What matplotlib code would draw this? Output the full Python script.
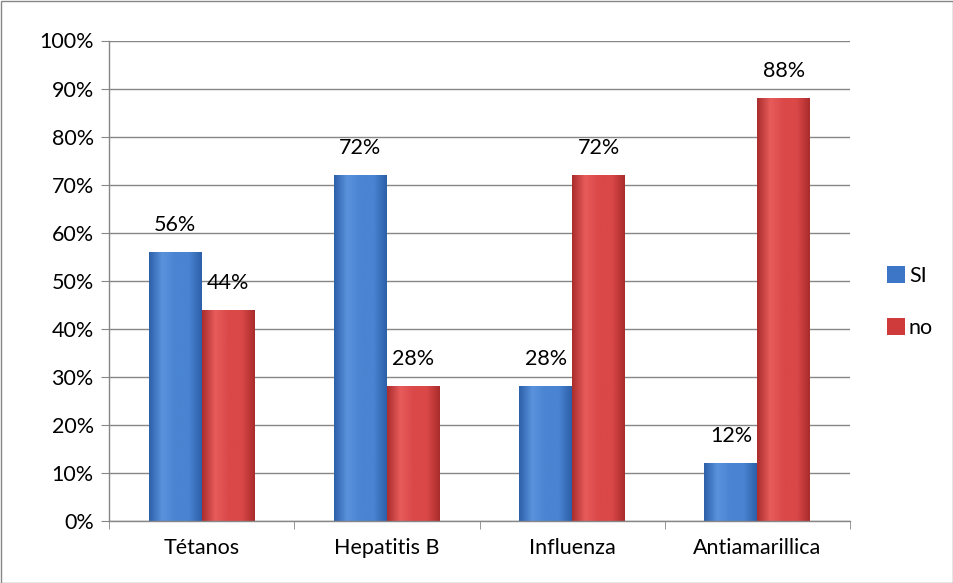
import matplotlib
matplotlib.use("Agg")
import matplotlib.pyplot as plt
import numpy as np
from matplotlib.colors import LinearSegmentedColormap
from matplotlib.patches import Rectangle

categories = ["Tétanos", "Hepatitis B", "Influenza", "Antiamarillica"]
si_values = [56, 72, 28, 12]
no_values = [44, 28, 72, 88]
series_names = ["SI", "no"]
y_ticks = [0, 10, 20, 30, 40, 50, 60, 70, 80, 90, 100]

plt.rcParams["font.family"] = ["Lato", "DejaVu Sans"]

fig = plt.figure(figsize=(9.54, 5.83), dpi=100)
ax = fig.add_axes([109 / 954, 1 - 521 / 583, (850 - 109) / 954, (521 - 40.5) / 583])

blue = "#3D76C6"
red = "#CF3B3B"
blue_cmap = LinearSegmentedColormap.from_list("b", ["#2C5FA8", "#5A92DC", "#4A84D2", "#4A84D2", "#2C5FA8"])
red_cmap = LinearSegmentedColormap.from_list("r", ["#A92C2C", "#E85C5C", "#DB4848", "#DB4848", "#A92C2C"])

x = np.arange(len(categories))
w = 1 / 3.5

bars_si = ax.bar(x - w / 2, si_values, w, color=blue, zorder=3, label=series_names[0])
bars_no = ax.bar(x + w / 2, no_values, w, color=red, zorder=3, label=series_names[1])

# horizontal shading inside each bar
grad = np.linspace(0, 1, 256).reshape(1, -1)
for bars, cmap in ((bars_si, blue_cmap), (bars_no, red_cmap)):
    for b in bars:
        x0, y0 = b.get_x(), b.get_y()
        bw, bh = b.get_width(), b.get_height()
        im = ax.imshow(grad, cmap=cmap, aspect="auto",
                       extent=(x0, x0 + bw, y0, y0 + bh), zorder=3.5,
                       interpolation="bicubic")
        im.set_clip_path(b)

for bars, vals in ((bars_si, si_values), (bars_no, no_values)):
    for b, v in zip(bars, vals):
        ax.annotate(f"{v}%", (b.get_x() + b.get_width() / 2, v),
                    xytext=(0, 17), textcoords="offset pixels",
                    ha="center", va="bottom", fontsize=15.5, color="#000000", zorder=5)

ax.set_xlim(-0.5, len(categories) - 0.5)
ax.set_ylim(0, 100)
ax.set_yticks(y_ticks)
ax.set_yticklabels([f"{t}%" for t in y_ticks])
ax.set_xticks(x)
ax.set_xticklabels(categories)
ax.set_xticks(np.arange(-0.5, len(categories)), minor=True)
ax.tick_params(axis="x", which="major", length=0, pad=12, labelsize=15.5)
ax.tick_params(axis="x", which="minor", length=6, color="#868686")
ax.tick_params(axis="y", length=6, color="#868686", labelsize=15.5, pad=5)
ax.yaxis.grid(True, color="#868686", linewidth=1.0, zorder=0)
ax.set_axisbelow(True)
for s in ("top", "right"):
    ax.spines[s].set_visible(False)
for s in ("left", "bottom"):
    ax.spines[s].set_color("#868686")
    ax.spines[s].set_linewidth(1.0)
ax.spines["bottom"].set_zorder(4)

leg = fig.legend(handles=[bars_si, bars_no], labels=series_names, loc="center left",
                 bbox_to_anchor=(868 / 954, 1 - 302 / 583), frameon=False,
                 fontsize=15.5, handlelength=0.8, handleheight=0.8,
                 handletextpad=0.2, labelspacing=1.5)

fig.patches.append(Rectangle((0.5 / 954, 0.5 / 583), 1 - 1.5 / 954, 1 - 1.5 / 583,
                             transform=fig.transFigure, fill=False,
                             edgecolor="#868686", linewidth=1.0))

fig.savefig("out.png", dpi=100)
